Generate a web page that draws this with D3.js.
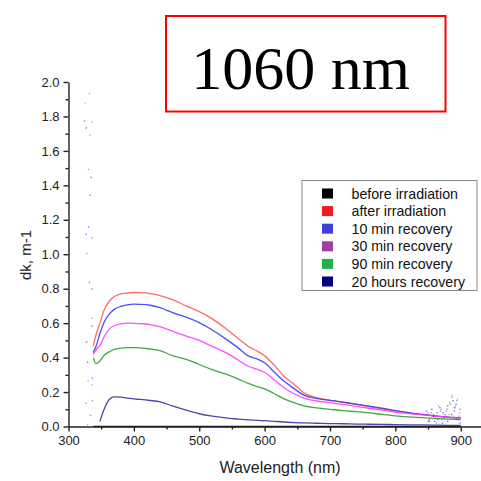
<!DOCTYPE html>
<html>
<head>
<meta charset="utf-8">
<script src="https://cdn.jsdelivr.net/npm/d3@7/dist/d3.min.js"></script>
<style>
  html, body { margin: 0; padding: 0; background: #fff; }
  svg { display: block; }
  text { font-family: "Liberation Sans", Arial, sans-serif; fill: #222; }
  text.caption { font-family: "Liberation Serif", "Times New Roman", serif; fill: #000; }
</style>
</head>
<body>
<svg id="chart" width="481" height="481"></svg>
<script>
// Absorption change spectra (dk, m-1) recorded at several times around irradiation
const wavelength = [338, 342, 348, 355, 363, 370, 380, 390, 400, 410, 425, 440, 460, 480, 500,
  520, 540, 560, 575, 590, 600, 615, 630, 645, 660, 680, 700, 720, 740, 760, 780, 800, 820, 840,
  860, 880, 900];

const seriesNames = ["before irradiation", "after irradiation", "10 min recovery",
  "30 min recovery", "90 min recovery", "20 hours recovery"];

const beforeIrradiation = wavelength.map(() => 0);
const afterIrradiation = [0.47, 0.53, 0.60, 0.68, 0.73, 0.755, 0.77, 0.775, 0.778, 0.777, 0.772,
  0.76, 0.735, 0.70, 0.667, 0.625, 0.57, 0.51, 0.465, 0.435, 0.41, 0.355, 0.29, 0.245, 0.195,
  0.168, 0.152, 0.14, 0.128, 0.115, 0.102, 0.09, 0.08, 0.07, 0.062, 0.055, 0.05];
const recovery10min = [0.43, 0.465, 0.54, 0.61, 0.655, 0.68, 0.697, 0.706, 0.71, 0.709, 0.704,
  0.69, 0.66, 0.635, 0.603, 0.56, 0.51, 0.455, 0.41, 0.39, 0.37, 0.315, 0.262, 0.22, 0.182,
  0.162, 0.152, 0.142, 0.13, 0.118, 0.106, 0.092, 0.08, 0.07, 0.062, 0.055, 0.05];
const recovery30min = [0.42, 0.445, 0.47, 0.525, 0.568, 0.585, 0.596, 0.6, 0.599, 0.597, 0.592,
  0.58, 0.552, 0.525, 0.5, 0.465, 0.43, 0.385, 0.35, 0.33, 0.315, 0.27, 0.225, 0.19, 0.165,
  0.148, 0.138, 0.128, 0.117, 0.106, 0.095, 0.084, 0.075, 0.067, 0.06, 0.054, 0.05];
const recovery90min = [0.40, 0.365, 0.38, 0.415, 0.435, 0.448, 0.455, 0.458, 0.458, 0.456, 0.45,
  0.44, 0.41, 0.39, 0.36, 0.33, 0.305, 0.275, 0.25, 0.23, 0.218, 0.19, 0.16, 0.138, 0.12,
  0.108, 0.1, 0.092, 0.086, 0.079, 0.07, 0.062, 0.056, 0.051, 0.047, 0.043, 0.04];
const recovery20h = [null, null, 0.03, 0.105, 0.16, 0.172, 0.17, 0.165, 0.16, 0.157, 0.151,
  0.143, 0.118, 0.095, 0.074, 0.06, 0.05, 0.043, 0.038, 0.035, 0.034, 0.03, 0.026, 0.023, 0.021,
  0.019, 0.017, 0.016, 0.014, 0.013, 0.012, 0.011, 0.01, 0.009, 0.008, 0.007, 0.006];

// Scattered readings at the noisy ends of the spectrum: [wavelength, dk]
const afterScatter = [[330, 0.265], [328, 0.49], [855, 0.08], [870, 0.1], [882, 0.07], [890, 0.11]];
const rec10Scatter = [[327, 1.733], [334.6, 1.446], [333.1, 1.343], [330.5, 1.159], [327, 1.117],
  [332, 0.837], [335.7, 0.584], [329, 0.373], [336.5, 0.28], [848, 0.09], [852, 0.04], [856, 0.1],
  [860, 0.03], [864, 0.08], [868, 0.11], [872, 0.02], [876, 0.07], [880, 0.12], [884, 0.05],
  [888, 0.15], [890, 0.09], [893, 0.13], [896, 0.04], [899, 0.1]];
const rec30Scatter = [[332, 1.933], [325.5, 1.878], [335.7, 1.768], [333.1, 1.691], [330.5, 1.492],
  [327.8, 1.005], [335.7, 0.628], [327, 0.493], [335.7, 0.242], [329, 0.01], [850, 0.08],
  [855, 0.1], [862, 0.05], [866, 0.12], [871, 0.04], [878, 0.09], [883, 0.14], [886, 0.18],
  [889, 0.06], [892, 0.12], [895, 0.16], [898, 0.08]];
const rec90Scatter = [[324.4, 1.774], [335.7, 1.096], [335.7, 0.8], [327, 0.136], [336.5, 0.151],
  [333.8, 0.064], [852, 0.03], [858, 0.07], [863, 0.02], [869, 0.09], [874, 0.05], [879, 0.1],
  [884, 0.13], [887, 0.17], [891, 0.11], [894, 0.15], [897, 0.06]];
const rec20hScatter = [[850, 0.03], [858, 0.06], [865, 0.04], [873, 0.08], [880, 0.03],
  [886, 0.07], [893, 0.05], [899, 0.02]];

const xTicks = [300, 400, 500, 600, 700, 800, 900];
const xMinorTicks = [350, 450, 550, 650, 750, 850];
const yTicks = [0, 0.2, 0.4, 0.6, 0.8, 1.0, 1.2, 1.4, 1.6, 1.8, 2.0];
const yMinorTicks = [0.1, 0.3, 0.5, 0.7, 0.9, 1.1, 1.3, 1.5, 1.7, 1.9];

const lineColors = ["#000000", "#ff5a5a", "#3b3bf2", "#ff3cff", "#2e9e2e", "#34349c"];
const swatchColors = ["#000000", "#ee1c25", "#4040d8", "#9e409e", "#22b14c", "#000080"];

const svg = d3.select("#chart");

const x = d3.scaleLinear().domain([300, 931]).range([68.5, 481]);
const y = d3.scaleLinear().domain([0, 2]).range([426.5, 82]);

const series = [
  { values: beforeIrradiation, scatter: [] },
  { values: afterIrradiation, scatter: afterScatter },
  { values: recovery10min, scatter: rec10Scatter },
  { values: recovery30min, scatter: rec30Scatter },
  { values: recovery90min, scatter: rec90Scatter },
  { values: recovery20h, scatter: rec20hScatter }
].map((s, i) => ({
  name: seriesNames[i],
  color: lineColors[i],
  swatch: swatchColors[i],
  points: wavelength.map((w, j) => [w, s.values[j]]).filter(p => p[1] !== null),
  scatter: s.scatter
}));

const line = d3.line()
  .x(d => x(d[0]))
  .y(d => y(d[1]))
  .curve(d3.curveMonotoneX);

const plot = svg.append("g");

// spectra, the baseline first so later curves sit on top
series.forEach(s => {
  plot.append("path")
    .datum(s.points)
    .attr("fill", "none")
    .attr("stroke", s.color)
    .attr("stroke-width", 1.3)
    .attr("stroke-opacity", 0.9)
    .attr("d", line);
  plot.selectAll(null)
    .data(s.scatter)
    .join("rect")
    .attr("x", d => x(d[0]) - 0.6)
    .attr("y", d => y(d[1]) - 0.6)
    .attr("width", 1.3)
    .attr("height", 1.3)
    .attr("fill", s.color)
    .attr("opacity", 0.75);
});

// axes
const axisColor = "#222";
svg.append("g")
  .attr("transform", `translate(0,${y(0)})`)
  .call(d3.axisBottom(x).tickValues(xTicks).tickSize(5).tickPadding(4).tickSizeOuter(0));
svg.append("g")
  .attr("transform", `translate(0,${y(0)})`)
  .call(d3.axisBottom(x).tickValues(xMinorTicks).tickSize(3).tickFormat("").tickSizeOuter(0))
  .select(".domain").remove();

svg.append("g")
  .attr("transform", `translate(${x(300)},0)`)
  .call(d3.axisLeft(y).tickValues(yTicks).tickFormat(d3.format(".1f")).tickSize(5).tickPadding(4).tickSizeOuter(0));
svg.append("g")
  .attr("transform", `translate(${x(300)},0)`)
  .call(d3.axisLeft(y).tickValues(yMinorTicks).tickSize(3).tickFormat("").tickSizeOuter(0))
  .select(".domain").remove();

svg.selectAll(".domain, .tick line")
  .attr("stroke", axisColor)
  .attr("stroke-width", 1.4);
svg.selectAll(".tick text")
  .attr("font-size", 13)
  .attr("fill", "#222");

// axis titles
svg.append("text")
  .attr("x", 280)
  .attr("y", 473)
  .attr("text-anchor", "middle")
  .attr("font-size", 16)
  .text("Wavelength (nm)");

svg.append("text")
  .attr("transform", "translate(31,255) rotate(-90)")
  .attr("text-anchor", "middle")
  .attr("font-size", 15)
  .text("dk, m-1");

// legend
const legend = svg.append("g");
legend.append("rect")
  .attr("x", 302)
  .attr("y", 180.5)
  .attr("width", 175)
  .attr("height", 110)
  .attr("fill", "#fff")
  .attr("stroke", "#8a8a8a")
  .attr("stroke-width", 1);
const rows = legend.selectAll("g.row")
  .data(series)
  .join("g")
  .attr("class", "row")
  .attr("transform", (d, i) => `translate(0,${193.5 + i * 17.6})`);
rows.append("rect")
  .attr("x", 322)
  .attr("y", -5)
  .attr("width", 11)
  .attr("height", 10)
  .attr("fill", d => d.swatch);
rows.append("text")
  .attr("x", 351.5)
  .attr("y", 5)
  .attr("font-size", 14.2)
  .style("fill", "#111")
  .text(d => d.name);

// boxed caption
svg.append("rect")
  .attr("x", 166)
  .attr("y", 16)
  .attr("width", 279.5)
  .attr("height", 95.5)
  .attr("fill", "#fff")
  .attr("stroke", "#ff0000")
  .attr("stroke-width", 2);
svg.append("text")
  .attr("class", "caption")
  .attr("x", 300.5)
  .attr("y", 88.5)
  .attr("text-anchor", "middle")
  .attr("font-size", 62)
  .text("1060 nm");
</script>
</body>
</html>
